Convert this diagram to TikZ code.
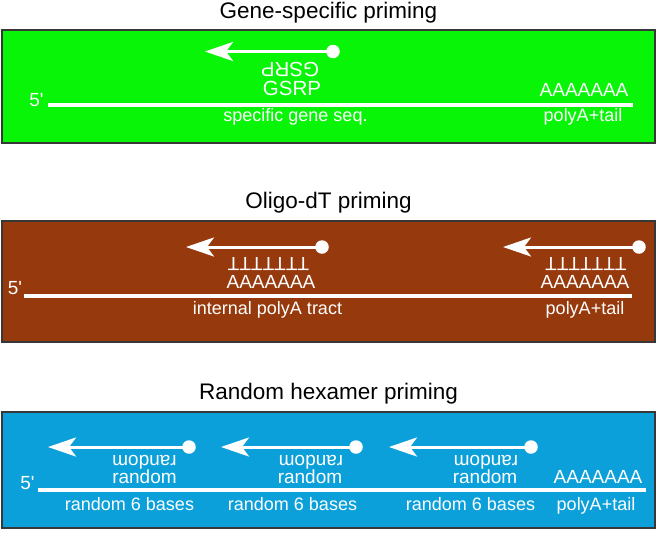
\documentclass[tikz,border=0pt]{standalone}
\usepackage{fontspec}
\setmainfont{Liberation Sans}
\usetikzlibrary{arrows.meta}
\definecolor{geneGreen}{RGB}{8,245,8}
\definecolor{oligoBrown}{RGB}{150,57,12}
\definecolor{randBlue}{RGB}{12,160,218}
\definecolor{boxEdge}{RGB}{55,55,55}
\begin{document}
\begin{tikzpicture}[x=1pt,y=-1pt,
  panel/.style={draw=boxEdge, line width=1.5pt},
  title/.style={font=\fontsize{22.5}{26}\selectfont, anchor=base, inner sep=0pt},
  big/.style={font=\fontsize{19}{22}\selectfont, text=white, anchor=base, inner sep=0pt},
  gsrp/.style={font=\fontsize{20.5}{24}\selectfont, text=white, anchor=base, inner sep=0pt},
  small/.style={font=\fontsize{18}{21}\selectfont, text=white, anchor=base, inner sep=0pt},
  flip/.style={big, rotate=180},
  strand/.style={draw=white, line width=4pt},
  primer/.style={draw=white, line width=3pt, -{Stealth[length=28pt,width=19pt,inset=7pt]}},
  dot/.style={circle, fill=white, minimum size=13.5pt, inner sep=0pt},
]
\useasboundingbox (0,0) rectangle (668,557);

% ---------- Panel 1: Gene-specific priming ----------
\node[title] (ttl1) at (328.5,18.5) {Gene-specific priming};
\path[panel, fill=geneGreen] (2,30) rectangle (655,143);
\node[big] (p1five) at (36.5,106) {5\textquotesingle};
\coordinate (s1a) at (48,105);
\coordinate (s1b) at (633,105);
\draw[strand] (s1a) -- (s1b);
\node[dot] (d1) at (333,51.5) {};
\coordinate (a1) at (205,51.5);
\draw[primer] (d1.center) -- (a1);
\node[gsrp, rotate=180] (g1f) at (290,62.5) {GSRP};
\node[gsrp] (g1) at (292,95.5) {GSRP};
\node[big] (pa1) at (584,96) {AAAAAAA};
\node[small] (l1a) at (295.5,121) {specific gene seq.};
\node[small] (l1b) at (583,121) {polyA+tail};

% ---------- Panel 2: Oligo-dT priming ----------
\node[title] (ttl2) at (328.5,208.5) {Oligo-dT priming};
\path[panel, fill=oligoBrown] (2,221) rectangle (655,342);
\node[big] (p2five) at (15,294) {5\textquotesingle};
\coordinate (s2a) at (23.5,295.5);
\coordinate (s2b) at (632,295.5);
\draw[strand] (s2a) -- (s2b);
\node[dot] (d2a) at (322,247) {};
\coordinate (a2a) at (186,247);
\draw[primer] (d2a.center) -- (a2a);
\node[dot] (d2b) at (639,247) {};
\coordinate (a2b) at (503,247);
\draw[primer] (d2b.center) -- (a2b);
\node[flip] (t2a) at (268.5,257) {TTTTTTT};
\node[flip] (t2b) at (586,257) {TTTTTTT};
\node[big] (pa2a) at (271,288) {AAAAAAA};
\node[big] (pa2b) at (585,288) {AAAAAAA};
\node[small] (l2a) at (267.5,314) {internal polyA tract};
\node[small] (l2b) at (585,314) {polyA+tail};

% ---------- Panel 3: Random hexamer priming ----------
\node[title] (ttl3) at (328.5,399) {Random hexamer priming};
\path[panel, fill=randBlue] (2,412) rectangle (655,528);
\node[big] (p3five) at (27.5,489) {5\textquotesingle};
\coordinate (s3a) at (37.5,490);
\coordinate (s3b) at (646,490);
\draw[strand] (s3a) -- (s3b);
\node[dot] (d3a) at (189,447) {};
\coordinate (a3a) at (48,447);
\draw[primer] (d3a.center) -- (a3a);
\node[dot] (d3b) at (356,447) {};
\coordinate (a3b) at (221,447);
\draw[primer] (d3b.center) -- (a3b);
\node[dot] (d3c) at (531,447) {};
\coordinate (a3c) at (389,447);
\draw[primer] (d3c.center) -- (a3c);
\node[flip] (r3af) at (144.5,455) {random};
\node[flip] (r3bf) at (311,455) {random};
\node[flip] (r3cf) at (486,455) {random};
\node[big] (r3a) at (144.5,483) {random};
\node[big] (r3b) at (310,483) {random};
\node[big] (r3c) at (485,483) {random};
\node[big] (pa3) at (598,483) {AAAAAAA};
\node[small] (l3a) at (129.5,510) {random 6 bases};
\node[small] (l3b) at (292.5,510) {random 6 bases};
\node[small] (l3c) at (470.5,510) {random 6 bases};
\node[small] (l3d) at (596,510) {polyA+tail};
\end{tikzpicture}
\end{document}
